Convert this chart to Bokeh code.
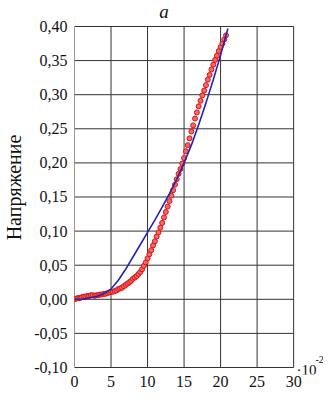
from bokeh.plotting import figure
from bokeh.models import FixedTicker, CustomJSTickFormatter, Label, Range1d
from bokeh.embed import file_html
from bokeh.resources import INLINE

# measured data (red markers)
red_x = [0.00, 0.25, 0.50, 0.75, 1.00, 1.25, 1.50, 1.75, 2.00, 2.25, 2.50, 2.75,
         3.00, 3.25, 3.50, 3.75, 4.00, 4.25, 4.50, 4.75, 5.00, 5.25, 5.50, 5.75,
         6.00, 6.25, 6.50, 6.75, 7.00, 7.25, 7.50, 7.75, 8.00, 8.25, 8.50, 8.75,
         9.00, 9.25, 9.50, 9.75, 10.00, 10.25, 10.50, 10.75, 11.00, 11.25, 11.50, 11.75,
         12.00, 12.25, 12.50, 12.75, 13.00, 13.25, 13.50, 13.75, 14.00, 14.25, 14.50, 14.75,
         15.00, 15.25, 15.50, 15.75, 16.00, 16.25, 16.50, 16.75, 17.00, 17.25, 17.50, 17.75,
         18.00, 18.25, 18.50, 18.75, 19.00, 19.25, 19.50, 19.75, 20.00, 20.25, 20.50, 20.75]
red_y = [0.000, 0.001, 0.002, 0.002, 0.003, 0.004, 0.004, 0.005, 0.005, 0.006, 0.006, 0.005,
         0.006, 0.006, 0.007, 0.007, 0.008, 0.008, 0.009, 0.010, 0.011, 0.011, 0.012, 0.013,
         0.015, 0.016, 0.017, 0.019, 0.021, 0.023, 0.025, 0.027, 0.030, 0.032, 0.034, 0.037,
         0.040, 0.044, 0.049, 0.054, 0.060, 0.066, 0.072, 0.079, 0.085, 0.092, 0.098, 0.105,
         0.112, 0.120, 0.128, 0.136, 0.144, 0.152, 0.160, 0.168, 0.176, 0.184, 0.191, 0.199,
         0.207, 0.217, 0.226, 0.236, 0.246, 0.255, 0.265, 0.274, 0.283, 0.291, 0.299, 0.306,
         0.314, 0.322, 0.329, 0.337, 0.344, 0.351, 0.357, 0.364, 0.370, 0.375, 0.381, 0.387]

# fitted curve (blue line)
blue_x = [0, 1, 2, 3, 4, 5, 6, 7, 8, 9, 10, 11, 12, 13, 14, 15, 16, 17, 18, 19, 20, 21]
blue_y = [0.000, 0.000, 0.002, 0.004, 0.008, 0.015, 0.028, 0.044, 0.062, 0.080, 0.098,
          0.116, 0.135, 0.155, 0.176, 0.200, 0.226, 0.256, 0.288, 0.322, 0.358, 0.397]

x_ticks = [0, 5, 10, 15, 20, 25, 30]
y_ticks = [-0.10, -0.05, 0.00, 0.05, 0.10, 0.15, 0.20, 0.25, 0.30, 0.35, 0.40]

FONT = "Liberation Serif"
INK = "#111111"
GRID = "#333333"

# ranges extend past the drawn box so the caption texts can sit inside the frame
p = figure(width=323, height=394, output_backend="svg", toolbar_location=None, title=None,
           x_range=Range1d(0, 34.09), y_range=Range1d(-0.11026, 0.4381),
           min_border_left=73, min_border_right=0, min_border_top=0, min_border_bottom=20,
           background_fill_color="white", border_fill_color="white")

p.outline_line_color = None
p.xgrid.grid_line_color = None
p.ygrid.grid_line_color = None

for ax in (p.xaxis, p.yaxis):
    ax.axis_line_color = None
    ax.major_tick_line_color = None
    ax.minor_tick_line_color = None
    ax.major_tick_in = 0
    ax.major_tick_out = 0
    ax.major_label_text_font = FONT
    ax.major_label_text_font_size = "16px"
    ax.major_label_text_color = INK

p.xaxis.ticker = FixedTicker(ticks=x_ticks)
p.yaxis.ticker = FixedTicker(ticks=y_ticks)
p.xaxis.major_label_standoff = 1
p.yaxis.major_label_standoff = 7
p.yaxis.formatter = CustomJSTickFormatter(code="""
    var v = Math.abs(tick) < 1e-9 ? 0 : tick;
    return v.toFixed(2).replace('.', ',');
""")

p.yaxis.axis_label = "Напряжение"
p.yaxis.axis_label_text_font = FONT
p.yaxis.axis_label_text_font_style = "normal"
p.yaxis.axis_label_text_font_size = "20px"
p.yaxis.axis_label_text_color = INK
p.yaxis.axis_label_standoff = 6

# grid (and box) limited to the 0..30 x -0.10..0.40 area
p.segment(x0=x_ticks, y0=[y_ticks[0]] * len(x_ticks), x1=x_ticks, y1=[y_ticks[-1]] * len(x_ticks),
          line_color=GRID, line_width=1)
p.segment(x0=[x_ticks[0]] * len(y_ticks), y0=y_ticks, x1=[x_ticks[-1]] * len(y_ticks), y1=y_ticks,
          line_color=GRID, line_width=1)

p.scatter(red_x, red_y, marker="circle", size=5, fill_color="#f06a6a",
          line_color="#e01010", line_width=1)
p.line(blue_x, blue_y, line_color="#2323b4", line_width=1.6)

p.add_layout(Label(x=12.27, y=0.4220, text="a",
                   text_font=FONT, text_font_style="italic", text_font_size="19px",
                   text_align="center", text_baseline="alphabetic", text_color=INK))
p.add_layout(Label(x=30.41, y=-0.1030, text="·10",
                   text_font=FONT, text_font_size="15px",
                   text_align="left", text_baseline="alphabetic", text_color=INK))
p.add_layout(Label(x=33.0, y=-0.0890, text="-2",
                   text_font=FONT, text_font_size="10px",
                   text_align="left", text_baseline="alphabetic", text_color=INK))

open("out.html", "w").write(file_html(p, INLINE))
